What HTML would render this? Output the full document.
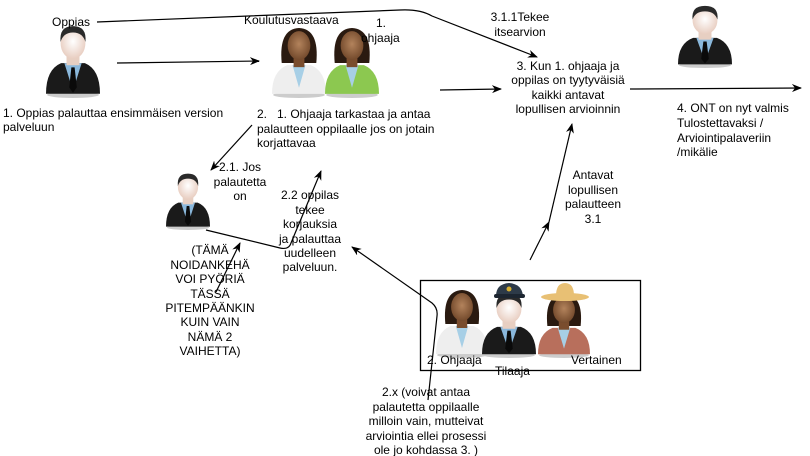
<!DOCTYPE html>
<html><head><meta charset="utf-8"><style>
html,body{margin:0;padding:0;background:#fff;}
svg{display:block;}
text{font-family:"Liberation Sans",Arial,sans-serif;font-size:12px;fill:#000;white-space:pre;}
</style></head><body>
<svg width="810" height="456" viewBox="0 0 810 456" xmlns="http://www.w3.org/2000/svg">
<defs>
<marker id="a" markerWidth="10" markerHeight="8" refX="9" refY="4" orient="auto" markerUnits="userSpaceOnUse">
<path d="M0,0 L10,4 L0,8 L3,4 Z" fill="#000"/></marker>
<radialGradient id="skin" cx="0.5" cy="0.45" r="0.6"><stop offset="0" stop-color="#fff"/><stop offset="1" stop-color="#e6c9bb"/></radialGradient>
<radialGradient id="dskin" cx="0.5" cy="0.45" r="0.6"><stop offset="0" stop-color="#b3835c"/><stop offset="1" stop-color="#6e4528"/></radialGradient>
<symbol id="man" viewBox="0 0 50 70" preserveAspectRatio="none">
<ellipse cx="25" cy="67" rx="24" ry="3" fill="#ccc"/>
<path d="M0,66 Q0,43 14,37 L36,37 Q50,43 50,66 Z" fill="#1a1a1a"/>
<path d="M17,37 L25,63 L33,37 Z" fill="#8ab8dc"/>
<path d="M23.5,41 L26.5,41 L28.5,60 L25,65 L21.5,60 Z" fill="#0a0a0a"/>
<rect x="19" y="28" width="12" height="11" fill="#e7cfc2"/>
<ellipse cx="25" cy="18" rx="11.5" ry="15" fill="url(#skin)"/>
<path d="M13.5,17 Q12,2 25,2 Q38,2 36.5,17 Q34,8 25,8 Q16,8 13.5,17 Z" fill="#2a2a2a"/>
</symbol>
<symbol id="woman" viewBox="0 0 50 70" preserveAspectRatio="none">
<ellipse cx="25" cy="67" rx="24" ry="3" fill="#ccc"/>
<path d="M9,36 Q6,3 25,2 Q44,3 41,36 Z" fill="#2a1a10"/>
<path d="M0,66 Q0,44 14,38 L36,38 Q50,44 50,66 Z" fill="currentColor"/>
<path d="M19,38 L25,60 L31,38 Z" fill="#a7cfe6"/>
<rect x="20" y="28" width="10" height="12" fill="#7a4d2e"/>
<ellipse cx="25" cy="19" rx="10.5" ry="14" fill="url(#dskin)"/>
</symbol>
</defs>

<!-- people -->
<use href="#man" x="46" y="24" width="54" height="74"/>
<g style="color:#eeeeee"><use href="#woman" x="272" y="26" width="54" height="72"/></g>
<g style="color:#8cc850"><use href="#woman" x="325" y="26" width="54" height="72"/></g>
<use href="#man" x="678" y="4" width="54" height="64"/>
<use href="#man" x="166" y="172" width="44" height="58"/>
<g style="color:#eeeeee"><use href="#woman" x="436" y="288" width="52" height="70"/></g>
<use href="#man" x="482" y="292" width="54" height="66"/>
<path d="M496,296 Q496,284 509,283 Q522,284 523,296 Z" fill="#2d3a48"/>
<rect x="494" y="294" width="31" height="4" rx="2" fill="#1c2530"/>
<circle cx="509" cy="289" r="2.5" fill="#d8b030"/>
<g style="color:#b86f5c"><use href="#woman" x="538" y="292" width="52" height="66"/></g>
<path d="M556,296 Q556,283 565,283 Q574,283 574,296 Z" fill="#e8c074"/>
<ellipse cx="565" cy="297" rx="24" ry="4" fill="#e8c074"/>

<!-- box -->
<rect x="420.5" y="280.5" width="220" height="90" fill="none" stroke="#000" stroke-width="1.3"/>

<!-- connectors -->
<g stroke="#000" stroke-width="1.2" fill="none">
<path d="M97,22 L400,10 Q420,9 432,16 L537,57" marker-end="url(#a)"/>
<path d="M117,63 L259,61" marker-end="url(#a)"/>
<path d="M252,125 L211,170" marker-end="url(#a)"/>
<path d="M440,90 L501,89" marker-end="url(#a)"/>
<path d="M630,89 L801,88" marker-end="url(#a)"/>
<path d="M206,230 L280,248 Q289,250 291,243 L321,171" marker-end="url(#a)"/>
<path d="M216,292 L240,243" marker-end="url(#a)"/>
<path d="M428,400 L437,316 Q438,308 432,303 L352,247" marker-end="url(#a)"/>
<path d="M530,260 L549,222" marker-end="url(#a)"/>
<path d="M549,222 L572,124" marker-end="url(#a)"/>
</g>

<!-- labels -->
<text x="52" y="26">Oppias</text>
<text x="244" y="24">Koulutusvastaava</text>
<text x="376" y="27">1.</text>
<text x="361" y="42">ohjaaja</text>
<text x="520" y="21" text-anchor="middle">3.1.1Tekee</text>
<text x="520" y="36" text-anchor="middle">itsearvion</text>
<text x="3" y="117">1. Oppias palauttaa ensimmäisen version</text>
<text x="3" y="131">palveluun</text>
<text x="257" y="118">2.   1. Ohjaaja tarkastaa ja antaa</text>
<text x="257" y="133">palautteen oppilaalle jos on jotain</text>
<text x="257" y="147">korjattavaa</text>
<g text-anchor="middle">
<text x="568" y="70">3. Kun 1. ohjaaja ja</text>
<text x="568" y="84">oppilas on tyytyväisiä</text>
<text x="568" y="99">kaikki antavat</text>
<text x="568" y="113">lopullisen arvioinnin</text>
<text x="240" y="171">2.1. Jos</text>
<text x="240" y="186">palautetta</text>
<text x="240" y="200">on</text>
<text x="310" y="199">2.2 oppilas</text>
<text x="310" y="214">tekee</text>
<text x="310" y="228">korjauksia</text>
<text x="310" y="243">ja palauttaa</text>
<text x="310" y="257">uudelleen</text>
<text x="310" y="271">palveluun.</text>
<text x="210" y="254">(TÄMÄ</text>
<text x="210" y="269">NOIDANKEHÄ</text>
<text x="210" y="283">VOI PYÖRIÄ</text>
<text x="210" y="298">TÄSSÄ</text>
<text x="210" y="312">PITEMPÄÄNKIN</text>
<text x="210" y="326">KUIN VAIN</text>
<text x="210" y="341">NÄMÄ 2</text>
<text x="210" y="355">VAIHETTA)</text>
<text x="593" y="179">Antavat</text>
<text x="593" y="194">lopullisen</text>
<text x="593" y="208">palautteen</text>
<text x="593" y="223">3.1</text>
<text x="426" y="396">2.x (voivat antaa</text>
<text x="426" y="411">palautetta oppilaalle</text>
<text x="426" y="425">milloin vain, mutteivat</text>
<text x="426" y="440">arviointia ellei prosessi</text>
<text x="426" y="454">ole jo kohdassa 3. )</text>
</g>
<text x="677" y="112">4. ONT on nyt valmis</text>
<text x="677" y="127">Tulostettavaksi /</text>
<text x="677" y="142">Arviointipalaveriin</text>
<text x="677" y="156">/mikälie</text>
<text x="427" y="364">2. Ohjaaja</text>
<text x="495" y="375">Tilaaja</text>
<text x="571" y="364">Vertainen</text>
</svg>
</body></html>
